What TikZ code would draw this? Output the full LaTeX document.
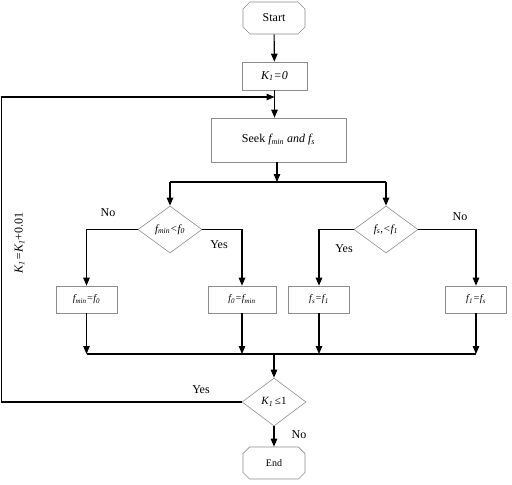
\documentclass[tikz,border=0pt]{standalone}
\usepackage{fontspec}
\setmainfont{Liberation Serif}
\usetikzlibrary{arrows.meta,shapes.geometric,shapes.misc}
\begin{document}
\begin{tikzpicture}[x=1pt,y=-1pt,
  outline/.style={draw=black!45, line width=0.6pt},
  box/.style={outline, rectangle, inner sep=0pt, font=\fontsize{10}{12}\selectfont\itshape},
  term/.style={outline, chamfered rectangle, chamfered rectangle xsep=4pt, inner sep=0pt, minimum width=62pt, minimum height=32pt, font=\fontsize{12}{14}\selectfont},
  dia/.style={outline, diamond, inner sep=0pt, minimum width=64pt, minimum height=47pt, font=\fontsize{11}{12}\selectfont\itshape},
  conn/.style={line width=1.1pt, black},
  arr/.style={conn, -{Triangle[length=8pt,width=6.5pt]}},
  lbl/.style={font=\fontsize{12}{14}\selectfont, inner sep=0pt}
]
\useasboundingbox (0,0) rectangle (512,485);

\node[term] (start) at (274,18) {Start};
\node[box, minimum width=65pt, minimum height=28pt, font=\fontsize{12}{14}\selectfont\itshape] (k0) at (274.5,76) {K\textsubscript{1}=0};
\node[box, minimum width=135pt, minimum height=44pt, font=\fontsize{12}{14}\selectfont] (seek) at (278.5,140) {Seek \textit{f\textsubscript{min} and f\textsubscript{s}}};

\node[dia] (d1) at (170,229.5) {f\textsubscript{min}<f\textsubscript{0}};
\node[dia] (d2) at (386,229.5) {f\textsubscript{s},<f\textsubscript{1}};

\node[box, minimum width=61pt, minimum height=27pt] (b1) at (86.5,299.5) {f\textsubscript{min}=f\textsubscript{0}};
\node[box, minimum width=68pt, minimum height=27pt] (b2) at (242,299.5) {f\textsubscript{0}=f\textsubscript{min}};
\node[box, minimum width=61pt, minimum height=27pt] (b3) at (319,299.5) {f\textsubscript{s}=f\textsubscript{1}};
\node[box, minimum width=61pt, minimum height=27pt] (b4) at (476,299.5) {f\textsubscript{1}=f\textsubscript{s}};

\node[dia, minimum height=48pt, font=\fontsize{11}{12}\selectfont] (d3) at (274,402) {\textit{K\textsubscript{1}}\,≤1};
\node[term, font=\fontsize{10}{12}\selectfont] (end) at (274,463) {End};

\coordinate (split) at (277,182);
\coordinate (merge) at (274,354);
\coordinate (cl) at (1.5,402);
\coordinate (cu) at (1.5,97);

\draw[arr] (start) -- (k0);
\draw[arr] (k0.south) -- (k0.south |- seek.north);
\draw[arr] (seek.south -| split) -- (split);
\draw[conn] (d1.north |- split) -- (d2.north |- split);
\draw[arr] (d1.north |- split) -- (d1.north);
\draw[arr] (d2.north |- split) -- (d2.north);
\draw[arr] (d1.west) -| (b1.north);
\draw[arr] (d1.east) -| (b2.north);
\draw[arr] (d2.west) -| (b3.north);
\draw[arr] (d2.east) -| (b4.north);
\draw[arr] (b1.south) -- (b1.south |- merge);
\draw[arr] (b2.south) -- (b2.south |- merge);
\draw[arr] (b3.south) -- (b3.south |- merge);
\draw[arr] (b4.south) -- (b4.south |- merge);
\draw[conn] (b1.south |- merge) -- (b4.south |- merge);
\draw[arr] (merge) -- (d3.north);
\draw[arr] (d3.west) -- (cl) -- (cu) -- (k0.south |- cu);
\draw[arr] (d3.south) -- (end.north);

\node[lbl] (no1) at (108,213) {No};
\node[lbl] (yes1) at (219,245) {Yes};
\node[lbl] (yes2) at (344,249) {Yes};
\node[lbl] (no2) at (460,217) {No};
\node[lbl] (yes3) at (201,390) {Yes};
\node[lbl] (no3) at (299,435) {No};
\node[lbl, rotate=90] (inc) at (19.5,243) {\textit{K\textsubscript{1}=K\textsubscript{1}}+0.01};
\end{tikzpicture}
\end{document}
